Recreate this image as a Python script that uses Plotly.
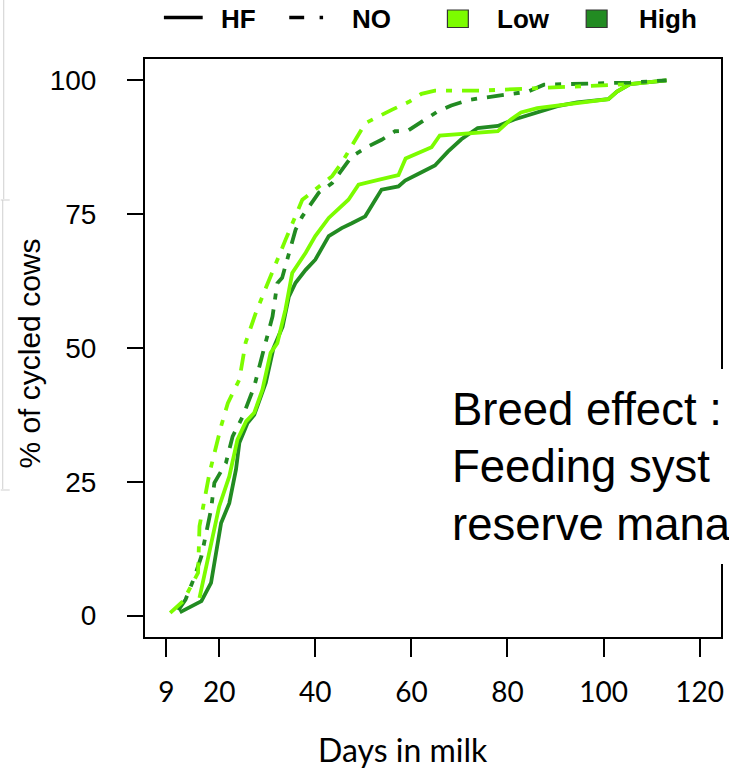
import plotly.graph_objects as go

# ---------------- data ----------------
hf_high_days = [11.8, 16.3, 18.3, 20.4, 22.1, 23.5, 24.2, 25.9, 27.3, 29.7, 31.3, 33.2, 34.5, 35.9,
                38.0, 40.0, 42.8, 45.5, 47.6, 50.4, 52.5, 53.8, 57.3, 58.7, 61.4, 64.9, 67.6,
                70.4, 73.8, 78.0, 81.4, 85.5, 90.4, 94.5, 101.0, 102.8, 105.5, 113.1]
hf_high_pct = [0.6, 2.7, 6.1, 17.3, 21.0, 27.3, 32.3, 36.0, 37.5, 43.5, 50.0, 54.0, 59.6, 62.2,
               64.6, 66.5, 70.9, 72.4, 73.3, 74.6, 77.7, 79.6, 80.2, 81.3, 82.5, 84.1, 86.7,
               89.0, 91.1, 91.5, 92.7, 93.9, 95.2, 95.9, 96.5, 97.9, 99.3, 100.0]

hf_low_days = [15.9, 20.0, 22.1, 23.8, 25.6, 27.3, 29.0, 30.7, 32.1, 33.8, 35.2, 38.0, 40.0,
               42.8, 46.9, 49.0, 53.1, 57.3, 58.8, 61.4, 64.2, 65.9, 71.1, 78.0, 80.7, 82.8,
               86.2, 91.7, 101.0, 102.8, 105.5, 113.1]
hf_low_pct = [3.3, 20.4, 26.0, 32.9, 36.3, 37.9, 42.2, 49.1, 50.9, 57.2, 64.0, 67.8, 70.9,
              74.3, 77.7, 80.5, 81.4, 82.3, 85.4, 86.4, 87.5, 89.7, 90.0, 90.5, 92.7, 94.0,
              94.8, 95.4, 96.5, 97.9, 99.3, 100.0]

no_high_days = [11.5, 13.0, 14.9, 16.3, 18.3, 19.0, 21.4, 22.8, 24.9, 27.3, 29.5, 31.1, 32.1,
                33.1, 35.9, 37.3, 40.7, 43.5, 47.6, 51.1, 53.8, 56.6, 59.3, 62.4, 65.3, 68.3,
                71.7, 74.5, 78.0, 81.4, 84.2, 87.6, 98.6, 105.5, 113.1]
no_high_pct = [1.0, 3.0, 7.3, 11.1, 19.8, 24.8, 28.5, 33.5, 37.2, 42.8, 50.5, 55.9, 62.1,
               63.1, 72.1, 74.6, 79.0, 80.8, 85.8, 87.7, 88.9, 90.5, 90.6, 92.5, 94.1, 95.3,
               96.3, 96.7, 97.1, 97.6, 97.9, 99.2, 99.5, 99.6, 100.0]

no_low_days = [9.8, 12.5, 15.6, 15.9, 18.0, 20.4, 21.8, 24.2, 25.5, 27.6, 29.7, 31.8, 33.8,
               37.3, 40.7, 43.5, 45.5, 48.3, 50.4, 55.9, 59.5, 62.1, 64.9, 74.5, 82.8, 89.0,
               98.6, 105.5]
no_low_pct = [0.5, 2.7, 8.0, 16.7, 26.7, 35.4, 39.7, 44.1, 51.0, 56.5, 61.2, 65.9, 70.2,
              77.7, 80.2, 82.1, 84.6, 88.9, 92.0, 94.5, 96.0, 97.5, 98.1, 98.1, 98.4, 98.6,
              98.9, 99.3]

x_tickvals = [9, 20, 40, 60, 80, 100, 120]
y_tickvals = [0, 25, 50, 75, 100]
legend_breeds = ["HF", "NO"]
legend_feeding = ["Low", "High"]
# only the part of the note that is visible in the reference
note_lines = ["Breed effect :", "Feeding syst", "reserve mana"]

LOW = "#7CFC00"
HIGH = "#228B22"
DASHDOT = "17px,10px,6px,10px"

W, H = 729, 770
L, R, T, B = 145, 5, 59, 133
PW, PH = W - L - R, H - T - B


def px(xp):
    return (xp - L) / PW


def py(yp):
    return (H - B - yp) / PH


fig = go.Figure()
series = [
    (hf_high_days, hf_high_pct, HIGH, "solid", "HF High"),
    (hf_low_days, hf_low_pct, LOW, "solid", "HF Low"),
    (no_high_days, no_high_pct, HIGH, DASHDOT, "NO High"),
    (no_low_days, no_low_pct, LOW, DASHDOT, "NO Low"),
]
for xs, ys, col, dash, name in series:
    fig.add_trace(go.Scatter(x=xs, y=ys, mode="lines", name=name,
                             line=dict(color=col, width=3.8, dash=dash),
                             showlegend=False, hoverinfo="skip"))

shapes = []
annotations = []

# white overlay box with note text
shapes.append(dict(type="rect", xref="paper", yref="paper", x0=px(440), x1=px(740),
                   y0=py(564), y1=py(369), fillcolor="white", line=dict(width=0),
                   layer="above"))
for i, txt in enumerate(note_lines):
    annotations.append(dict(text=txt, xref="paper", yref="paper", x=px(452),
                            y=py(409 + i * 57.5), xanchor="left", yanchor="middle",
                            showarrow=False,
                            font=dict(family="Liberation Sans, Arial", size=45.5, color="black")))

# manual legend (top)
LEG_Y = 17.5
shapes.append(dict(type="line", xref="paper", yref="paper", x0=px(164), x1=px(203),
                   y0=py(LEG_Y), y1=py(LEG_Y), line=dict(color="black", width=3.5)))
shapes.append(dict(type="line", xref="paper", yref="paper", x0=px(290), x1=px(305),
                   y0=py(LEG_Y), y1=py(LEG_Y), line=dict(color="black", width=3.5)))
shapes.append(dict(type="line", xref="paper", yref="paper", x0=px(320.5), x1=px(324),
                   y0=py(LEG_Y), y1=py(LEG_Y), line=dict(color="black", width=3.5)))
for xl, col in [(449, LOW), (588.5, HIGH)]:
    shapes.append(dict(type="rect", xref="paper", yref="paper", x0=px(xl), x1=px(xl + 21),
                       y0=py(27.5), y1=py(10), fillcolor=col,
                       line=dict(color="#333333", width=1.2)))
for txt, xl in zip(legend_breeds + legend_feeding, [219, 351, 497, 639.5]):
    annotations.append(dict(text="<b>" + txt + "</b>", xref="paper", yref="paper",
                            x=px(xl), y=py(18.5), xanchor="left", yanchor="middle",
                            showarrow=False,
                            font=dict(family="Liberation Sans, Arial", size=26, color="black")))

# axis titles
annotations.append(dict(text="Days in milk", xref="paper", yref="paper", x=px(404.5),
                        y=py(749), xanchor="center", yanchor="middle", showarrow=False,
                        font=dict(family="Lato", size=32, color="black")))
annotations.append(dict(text="% of cycled cows", xref="paper", yref="paper", x=px(29),
                        y=py(354), xanchor="center", yanchor="middle", showarrow=False,
                        textangle=-90,
                        font=dict(family="Liberation Sans, Arial", size=30, color="black")))

# faint slide artefacts at the left edge
for x0, y0, x1, y1 in [(3, 0, 3, 199), (0, 200, 9, 200), (2, 200, 2, 489), (0, 490, 9, 490)]:
    shapes.append(dict(type="line", xref="paper", yref="paper", x0=px(x0), x1=px(x1),
                       y0=py(y0), y1=py(y1), line=dict(color="#cfcfcf", width=1)))

fig.update_layout(
    width=W, height=H,
    margin=dict(l=L, r=R, t=T, b=B, pad=0),
    paper_bgcolor="white", plot_bgcolor="white",
    shapes=shapes, annotations=annotations,
    showlegend=False,
    xaxis=dict(range=[4.56, 124.44], tickvals=x_tickvals, ticktext=[str(v) for v in x_tickvals],
               ticks="outside", ticklen=18, tickwidth=1.6, tickcolor="black",
               showline=True, linecolor="black", linewidth=2, mirror=True,
               showgrid=False, zeroline=False, ticklabelstandoff=11,
               tickfont=dict(family="Lato", size=28, color="black")),
    yaxis=dict(range=[-4, 104], tickvals=y_tickvals, ticktext=[str(v) for v in y_tickvals],
               ticks="outside", ticklen=16, tickwidth=1.6, tickcolor="black",
               showline=True, linecolor="black", linewidth=2, mirror=True,
               showgrid=False, zeroline=False, ticklabelstandoff=25,
               tickfont=dict(family="Liberation Sans, Arial", size=28, color="black")),
)

fig.write_html("out.html")
